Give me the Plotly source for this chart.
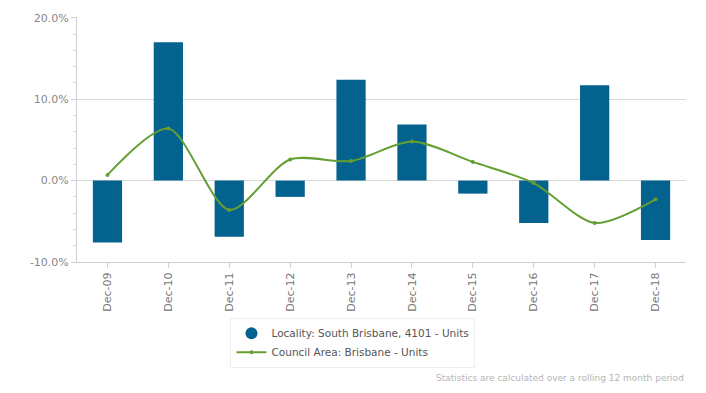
import plotly.graph_objects as go

categories = ["Dec-09", "Dec-10", "Dec-11", "Dec-12", "Dec-13",
              "Dec-14", "Dec-15", "Dec-16", "Dec-17", "Dec-18"]
locality_units = [-7.6, 17.0, -6.9, -2.0, 12.4, 6.9, -1.6, -5.2, 11.7, -7.3]
council_units = [0.7, 6.4, -3.6, 2.6, 2.4, 4.8, 2.3, -0.3, -5.2, -2.3]
y_tickvals = [-10, 0, 10, 20]
y_ticktext = ["-10.0%", "0.0%", "10.0%", "20.0%"]

BAR_COLOR = "#04628e"
LINE_COLOR = "#649f34"
FONT = "DejaVu Sans"

fig = go.Figure()
fig.add_trace(go.Bar(
    x=categories, y=locality_units, marker=dict(color=BAR_COLOR, line=dict(width=0)),
    width=0.48, showlegend=False, name="Locality: South Brisbane, 4101 - Units"))
fig.add_trace(go.Scatter(
    x=[None], y=[None], mode="markers", marker=dict(color=BAR_COLOR, size=12, symbol="circle"),
    name="Locality: South Brisbane, 4101 - Units"))
fig.add_trace(go.Scatter(
    x=categories, y=council_units, mode="lines+markers",
    line=dict(color=LINE_COLOR, width=2, shape="spline", smoothing=0.8),
    marker=dict(color=LINE_COLOR, size=4),
    name="Council Area: Brisbane - Units"))

fig.update_layout(
    width=706, height=393,
    margin=dict(l=77, r=20, t=12, b=131),
    plot_bgcolor="white", paper_bgcolor="white",
    font=dict(family=FONT, size=11, color="#777"),
    legend=dict(
        x=0.252, y=-0.228, xanchor="left", yanchor="top",
        bordercolor="#eeeeee", borderwidth=1, bgcolor="white",
        font=dict(family=FONT, size=10.5, color="#555"),
        itemwidth=30, tracegroupgap=0),
)
fig.update_xaxes(
    type="category", showgrid=False, showline=True, linecolor="#d0d0d0", linewidth=1,
    ticks="outside", ticklen=5, tickcolor="#d0d0d0", tickangle=-90,
    tickfont=dict(family=FONT, size=11, color="#777"), range=[-0.5, 9.5])
fig.update_yaxes(
    range=[-10, 20.1], tickvals=y_tickvals, ticktext=y_ticktext,
    showgrid=True, gridcolor="#d8d8d8", gridwidth=1,
    zeroline=True, zerolinecolor="#d8d8d8", zerolinewidth=1,
    showline=True, linecolor="#d0d0d0", linewidth=1,
    ticks="outside", ticklen=5, tickcolor="#d0d0d0",
    minor=dict(dtick=2, ticks="outside", ticklen=3, tickcolor="#d8d8d8", showgrid=False),
    tickfont=dict(family=FONT, size=11, color="#888"))

fig.add_annotation(
    text="Statistics are calculated over a rolling 12 month period",
    xref="paper", yref="paper", x=1, y=-0.475, xanchor="right", yanchor="middle",
    showarrow=False, font=dict(family=FONT, size=9, color="#b5b5b5"))

fig.write_html("out.html", config={"displayModeBar": False},
               post_script="document.body.style.margin='0';")
